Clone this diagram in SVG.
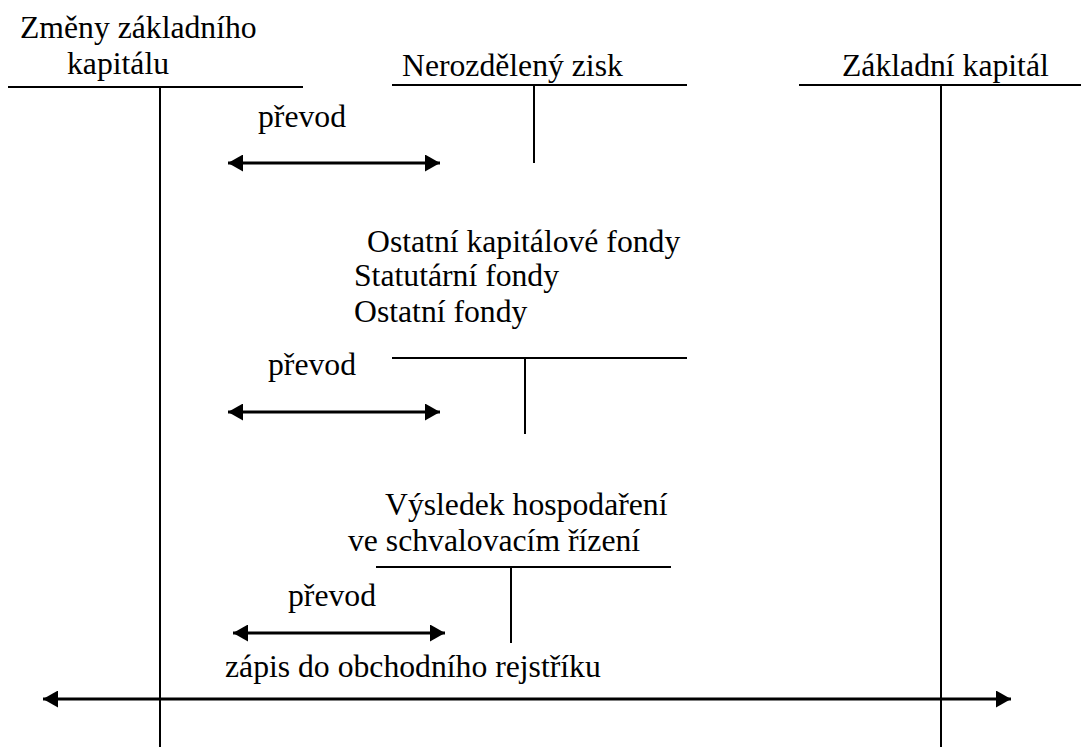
<svg xmlns="http://www.w3.org/2000/svg" width="1081" height="751" viewBox="0 0 1081 751">
<style>
text{font-family:"Liberation Serif","Times New Roman",serif;font-size:31.7px;fill:#000}
.t{stroke:#000;stroke-width:2;fill:none}
.a{stroke:#000;stroke-width:3;fill:none;marker-start:url(#hs);marker-end:url(#he)}
</style>
<defs>
<marker id="he" markerUnits="userSpaceOnUse" markerWidth="16" markerHeight="18" refX="15" refY="8.5" orient="auto"><polygon points="0,0 15,8.5 0,17" fill="#000"/></marker>
<marker id="hs" markerUnits="userSpaceOnUse" markerWidth="16" markerHeight="18" refX="0" refY="8.5" orient="auto"><polygon points="15,0 0,8.5 15,17" fill="#000"/></marker>
</defs>
<rect width="1081" height="751" fill="#fff"/>
<g id="zmeny">
<text x="20" y="38">Změny základního</text>
<text x="67" y="74">kapitálu</text>
<line class="t" x1="8" y1="87" x2="303" y2="87"/>
<line class="t" x1="160" y1="87" x2="160" y2="747"/>
</g>
<g id="nerozdeleny">
<text x="402" y="76">Nerozdělený zisk</text>
<line class="t" x1="392" y1="85" x2="687" y2="85"/>
<line class="t" x1="534" y1="85" x2="534" y2="163"/>
</g>
<g id="zakladni">
<text x="842" y="76">Základní kapitál</text>
<line class="t" x1="799" y1="85" x2="1081" y2="85"/>
<line class="t" x1="941" y1="85" x2="941" y2="747"/>
</g>
<g id="fondy">
<text x="367" y="252">Ostatní kapitálové fondy</text>
<text x="354" y="286">Statutární fondy</text>
<text x="354" y="322">Ostatní fondy</text>
<line class="t" x1="392" y1="358" x2="687" y2="358"/>
<line class="t" x1="525" y1="358" x2="525" y2="434"/>
</g>
<g id="vysledek">
<text x="385" y="515">Výsledek hospodaření</text>
<text x="348" y="551">ve schvalovacím řízení</text>
<line class="t" x1="376" y1="567" x2="671" y2="567"/>
<line class="t" x1="511" y1="567" x2="511" y2="643"/>
</g>
<g id="connectors">
<text x="258" y="127">převod</text>
<line class="a" x1="228" y1="163" x2="440" y2="163"/>
<text x="268" y="375">převod</text>
<line class="a" x1="228" y1="412" x2="440" y2="412"/>
<text x="288" y="606">převod</text>
<line class="a" x1="233" y1="633" x2="445" y2="633"/>
<text x="225" y="677">zápis do obchodního rejstříku</text>
<line class="a" x1="43" y1="699" x2="1011" y2="699"/>
</g>
</svg>
